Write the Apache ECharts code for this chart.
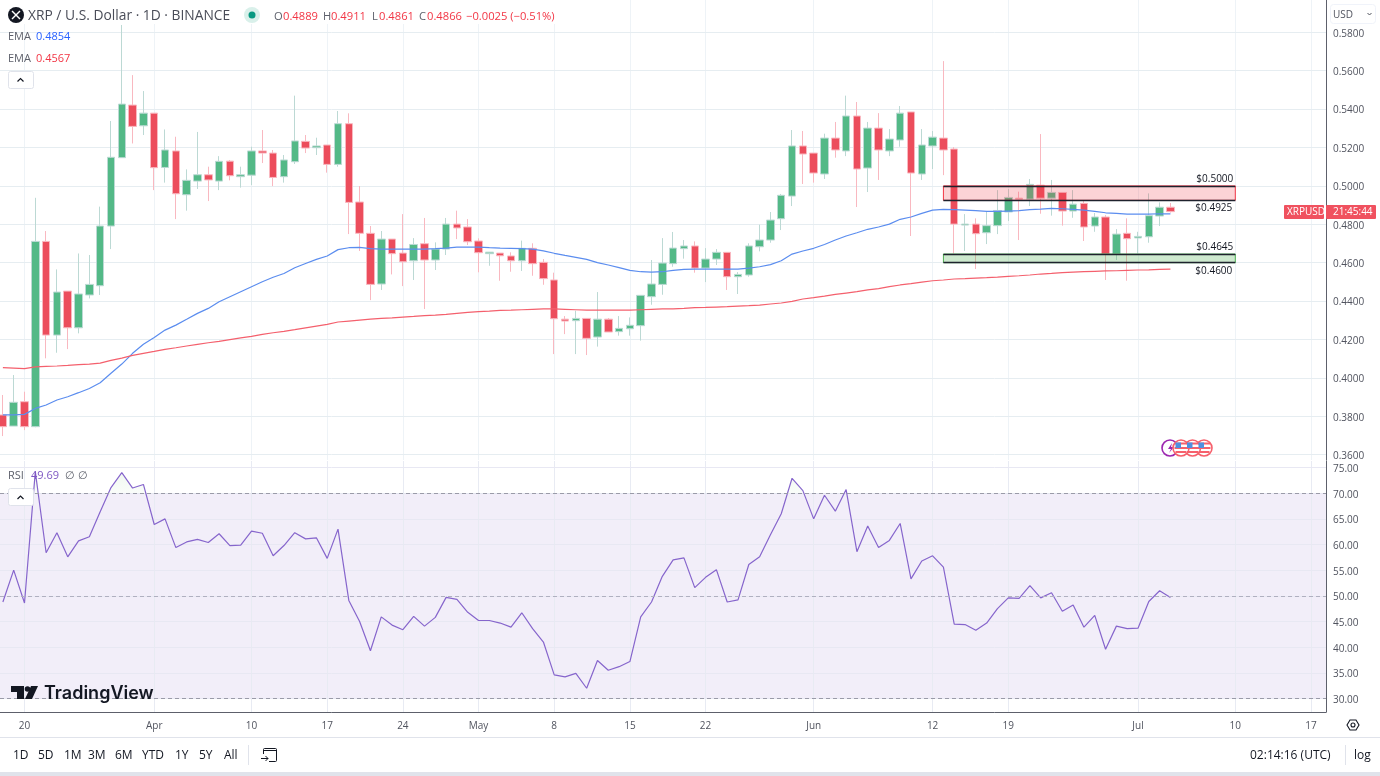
<!DOCTYPE html>
<html>
<head>
<meta charset="utf-8">
<style>html,body{margin:0;padding:0;background:#fff}#c{width:1380px;height:776px}</style>
<script src="https://cdn.jsdelivr.net/npm/echarts@6/dist/echarts.min.js"></script>
</head>
<body>
<div id="c"></div>
<script>
// first candle is 18 Mar; day 0 = 20 Mar
const firstDay = -2;
const opens = [.3807,.3749,.3876,.3746,.4711,.4223,.4452,.4261,.4432,.4480,
.4791,.5147,.5421,.5313,.5379,.5096,.5182,.4954,.5025,.5058,
.5025,.5129,.5048,.5056,.5182,.5171,.5048,.5126,.5232,.5199,
.5213,.5112,.5324,.4916,.4753,.4489,.4723,.4650,.4610,.4699,
.4614,.4671,.4801,.4786,.4713,.4647,.4650,.4635,.4610,.4675,
.4602,.4510,.4306,.4298,.4310,.4213,.4306,.4241,.4256,.4272,
.4423,.4487,.4595,.4673,.4687,.4572,.4619,.4654,.4527,.4536,
.4683,.4718,.4829,.4947,.5208,.5171,.5062,.5249,.5182,.5364,
.5093,.5301,.5182,.5239,.5385,.5062,.5208,.5249,.5192,.4796,
.4801,.4756,.4793,.4864,.4936,.4931,.5004,.4936,.4966,.4869,
.4909,.4791,.4838,.4645,.4753,.4729,.4735,.4843,.4889];
const closes = [.3746,.3873,.3746,.4711,.4223,.4447,.4261,.4437,.4487,.4791,
.5149,.5426,.5310,.5379,.5095,.5187,.4959,.5029,.5058,.5031,
.5128,.5053,.5058,.5182,.5171,.5044,.5135,.5234,.5197,.5208,
.5112,.5324,.4914,.4753,.4487,.4723,.4647,.4605,.4695,.4614,
.4671,.4801,.4781,.4709,.4652,.4655,.4636,.4610,.4675,.4595,
.4517,.4308,.4296,.4310,.4206,.4306,.4239,.4258,.4274,.4430,
.4489,.4598,.4676,.4687,.4572,.4619,.4654,.4527,.4539,.4687,
.4718,.4822,.4951,.5208,.5166,.5067,.5249,.5187,.5364,.5088,
.5301,.5187,.5244,.5379,.5067,.5213,.5254,.5187,.4801,.4801,
.4751,.4793,.4872,.4940,.4931,.5008,.4936,.4966,.4869,.4905,
.4786,.4838,.4645,.4749,.4725,.4737,.4845,.4889,.4866];
const lows = [.3697,.3749,.3728,.3743,.4102,.4131,.4150,.4232,.4414,.4432,
.4671,.5147,.5221,.5265,.4978,.5017,.4827,.4871,.4984,.4921,
.4978,.5029,.4991,.5004,.5119,.4999,.5017,.5114,.5171,.5161,
.5069,.5100,.4749,.4661,.4405,.4458,.4539,.4478,.4510,.4359,
.4562,.4640,.4723,.4692,.4550,.4584,.4506,.4553,.4557,.4532,
.4485,.4124,.4228,.4124,.4119,.4163,.4239,.4220,.4220,.4194,
.4381,.4433,.4579,.4621,.4548,.4499,.4588,.4458,.4437,.4527,
.4659,.4704,.4770,.4895,.5010,.5017,.5036,.5147,.5155,.4890,
.4968,.5031,.5155,.5204,.4739,.5031,.5088,.5056,.4648,.4661,
.4567,.4697,.4749,.4817,.4718,.4895,.4855,.4845,.4793,.4834,
.4713,.4761,.4510,.4614,.4506,.4648,.4704,.4791,.4861];
const highs = [.3911,.4015,.3928,.4938,.4765,.4565,.4452,.4648,.4640,.4892,
.5338,.5838,.5577,.5494,.5379,.5294,.5256,.5086,.5281,.5100,
.5155,.5135,.5100,.5204,.5291,.5187,.5161,.5470,.5265,.5251,
.5213,.5390,.5378,.4999,.4791,.4765,.4723,.4853,.4728,.4833,
.4706,.4833,.4871,.4827,.4727,.4655,.4650,.4654,.4715,.4701,
.4619,.4548,.4322,.4350,.4310,.4447,.4312,.4322,.4315,.4430,
.4614,.4728,.4760,.4718,.4711,.4676,.4671,.4654,.4551,.4701,
.4798,.4864,.4958,.5291,.5286,.5171,.5272,.5333,.5470,.5437,
.5333,.5379,.5296,.5416,.5385,.5296,.5286,.5650,.5202,.4853,
.4831,.4866,.4978,.4984,.4970,.5036,.5270,.5031,.4966,.4978,
.4923,.4859,.4848,.4775,.4831,.4761,.4961,.4914,.4911];
const emaBlue = [.3807,.3807,.3810,.3841,.3859,.3885,.3902,.3923,.3945,.3975,
.4024,.4072,.4128,.4175,.4211,.4249,.4275,.4305,.4336,.4362,
.4397,.4423,.4449,.4475,.4501,.4524,.4544,.4574,.4596,.4617,
.4635,.4668,.4678,.4680,.4673,.4671,.4671,.4671,.4671,.4671,
.4673,.4676,.4681,.4681,.4681,.4678,.4676,.4675,.4673,.4671,
.4662,.4649,.4638,.4628,.4617,.4600,.4588,.4574,.4560,.4553,
.4551,.4553,.4560,.4565,.4567,.4567,.4567,.4567,.4567,.4572,
.4579,.4590,.4610,.4645,.4661,.4675,.4695,.4718,.4739,.4756,
.4774,.4786,.4801,.4826,.4838,.4857,.4874,.4878,.4876,.4874,
.4871,.4867,.4867,.4869,.4871,.4876,.4879,.4883,.4881,.4878,
.4874,.4867,.4860,.4857,.4853,.4853,.4853,.4855,.4854];
const emaRed = [.4053,.4051,.4048,.4057,.4060,.4062,.4065,.4069,.4072,.4077,
.4091,.4103,.4117,.4128,.4138,.4149,.4157,.4166,.4175,.4183,
.4190,.4199,.4208,.4216,.4227,.4235,.4242,.4251,.4261,.4270,
.4279,.4291,.4296,.4301,.4306,.4310,.4313,.4317,.4320,.4324,
.4327,.4331,.4336,.4341,.4345,.4348,.4352,.4353,.4355,.4357,
.4359,.4359,.4357,.4355,.4353,.4353,.4353,.4353,.4353,.4355,
.4357,.4359,.4360,.4362,.4366,.4367,.4369,.4371,.4374,.4376,
.4379,.4385,.4390,.4399,.4411,.4418,.4426,.4435,.4442,.4449,
.4458,.4465,.4475,.4484,.4491,.4499,.4506,.4510,.4515,.4517,
.4520,.4522,.4525,.4529,.4532,.4536,.4541,.4544,.4548,.4551,
.4553,.4555,.4557,.4558,.4560,.4562,.4563,.4565,.4567];
const rsi = [48.8,55.0,48.6,74.2,58.4,62.3,57.6,60.7,61.5,66.4,
71.1,74.0,71.0,71.7,63.9,65.0,59.4,60.5,61.0,60.4,
62.1,59.8,59.9,62.6,62.2,57.8,59.8,62.3,61.1,61.3,
57.3,63.0,49.1,45.0,39.3,45.9,44.3,43.4,46.0,44.1,
45.8,49.7,49.3,46.8,45.2,45.2,44.7,43.9,46.7,43.6,
41.0,34.6,34.2,34.9,32.0,37.4,35.5,36.2,37.2,45.9,
48.8,53.8,57.0,57.4,51.6,53.6,55.1,48.8,49.2,56.1,
57.6,61.9,66.0,72.9,70.5,65.0,69.6,66.5,70.7,58.6,
63.6,59.4,60.8,64.1,53.3,56.8,57.8,55.6,44.5,44.4,
43.3,44.7,47.5,49.6,49.5,52.0,49.6,50.6,47.0,48.2,
43.9,46.2,39.6,44.1,43.6,43.7,48.9,51.0,49.69];
const xTickDays = [0,12,21,28,35,42,49,56,63,73,84,91,103,112,119];
const xTickLabels = ['20','Apr','10','17','24','May','8','15','22','Jun','12','19','Jul','10','17'];
const priceTicks = [.36,.38,.40,.42,.44,.46,.48,.50,.52,.54,.56,.58];
const rsiTicks = [30,35,40,45,50,55,60,65,70,75];
const resistance = [.4925,.5000];
const support = [.4600,.4645];
const zoneStart = 85, zoneEnd = 112;
const rangeButtons = ['1D','5D','1M','3M','6M','YTD','1Y','5Y','All'];

const FONT = '"Open Sans"';
const days = opens.map((_, i) => firstDay + i);
const xMin = -2.266, xMax = 120.39;
const GRID_H = '#e6edf1', GRID_V = '#eef3f7';
const txt = (text, x, y, size, fill, extra) => ({type:'text', z:20, silent:true,
  style:Object.assign({text, x, y, fill, font:`${size}px ${FONT}`, textVerticalAlign:'middle'}, extra||{})});
const chevron = (x, y) => ({type:'polyline', z:21, silent:true, shape:{points:[[x-3,y+2],[x,y-1],[x+3,y+2]]}, style:{stroke:'#131722', lineWidth:1.2, fill:null}});
const flag = (cx, cy) => ({type:'group', z:20, silent:true, x:cx, y:cy, children:[
  {type:'circle', z:20, shape:{cx:0,cy:0,r:8}, style:{fill:'#fff', stroke:'#f6606c', lineWidth:1.6}},
  {type:'rect', z:21, shape:{x:-6,y:-5.5,width:12,height:2}, style:{fill:'#f6606c'}},
  {type:'rect', z:21, shape:{x:-6.5,y:-1,width:13,height:2}, style:{fill:'#f6606c'}},
  {type:'rect', z:21, shape:{x:-5.5,y:3,width:11,height:2}, style:{fill:'#f6606c'}},
  {type:'rect', z:22, shape:{x:-5.5,y:-5.5,width:5.5,height:5.5}, style:{fill:'#4f8fe0'}}
]});

const elements = [
  {type:'rect', z:19, silent:true, shape:{x:0,y:0,width:560,height:24}, style:{fill:'#fff'}},
  {type:'circle', z:20, silent:true, shape:{cx:16,cy:15,r:8}, style:{fill:'#131722'}},
  {type:'polyline', z:21, silent:true, shape:{points:[[12,11],[20,19]]}, style:{stroke:'#fff',lineWidth:1.4}},
  {type:'polyline', z:21, silent:true, shape:{points:[[20,11],[12,19]]}, style:{stroke:'#fff',lineWidth:1.4}},
  txt('XRP / U.S. Dollar · 1D · BINANCE', 28, 16, 13.8, '#4a4d58'),
  {type:'circle', z:20, silent:true, shape:{cx:252,cy:15,r:8}, style:{fill:'#d9f0ea'}},
  {type:'circle', z:21, silent:true, shape:{cx:252,cy:15,r:3.5}, style:{fill:'#089981'}},
  txt('O', 274, 17, 11.2, '#5d606b'), txt('0.4889', 283, 17, 11.2, '#f23645'),
  txt('H', 323, 17, 11.2, '#5d606b'), txt('0.4911', 331, 17, 11.2, '#f23645'),
  txt('L', 372, 17, 11.2, '#5d606b'), txt('0.4861', 379, 17, 11.2, '#f23645'),
  txt('C', 419, 17, 11.2, '#5d606b'), txt('0.4866', 427, 17, 11.2, '#f23645'),
  txt('−0.0025 (−0.51%)', 466, 17, 11.2, '#f23645'),
  txt('EMA', 8, 37, 11, '#5d606b'), txt('0.4854', 36, 37, 11, '#2962ff'),
  txt('EMA', 8, 59, 11, '#5d606b'), txt('0.4567', 36, 59, 11, '#f23645'),
  {type:'rect', z:20, silent:true, shape:{x:8.5,y:71.5,width:25,height:17,r:2}, style:{fill:'#fff',stroke:'#e0e3eb'}},
  chevron(20.5, 79.5),
  txt('RSI', 8, 476, 11, '#5d606b'), txt('49.69', 31, 476, 11, '#7e57c2'), txt('∅', 65, 476, 11, '#5d606b'), txt('∅', 78, 476, 11, '#5d606b'),
  {type:'rect', z:20, silent:true, shape:{x:8.5,y:488.5,width:25,height:17,r:2}, style:{fill:'#fff',stroke:'#e0e3eb'}},
  chevron(20.5, 497),
  // logo
  {type:'polygon', z:20, silent:true, shape:{points:[[11,686],[24,686],[24,699],[17,699],[17,692],[11,692]]}, style:{fill:'#131722'}},
  {type:'circle', z:20, silent:true, shape:{cx:27.5,cy:689,r:2.8}, style:{fill:'#131722'}},
  {type:'polygon', z:20, silent:true, shape:{points:[[31,686],[38,686],[32,699],[25,699]]}, style:{fill:'#131722'}},
  txt('TradingView', 44, 694, 18, '#131722', {font:'600 18px Inter'}),
  // events
  {type:'circle', z:20, silent:true, shape:{cx:1170,cy:448,r:8}, style:{fill:'#fff',stroke:'#9c27b0',lineWidth:1.6}},
  {type:'polygon', z:20, silent:true, shape:{points:[[1172,443],[1168,449],[1171,449],[1169,453],[1174,447],[1171,447]]}, style:{fill:'#9c27b0'}},
  flag(1204,448), flag(1192.5,448), flag(1181,448),
  // bottom bar
  {type:'rect', z:20, silent:true, shape:{x:0,y:737,width:1380,height:1}, style:{fill:'#e0e3eb'}},
  {type:'rect', z:20, silent:true, shape:{x:0,y:772,width:1380,height:4}, style:{fill:'#e0e3eb'}},
  {type:'rect', z:20, silent:true, shape:{x:248,y:745,width:1,height:20}, style:{fill:'#e0e3eb'}},
  {type:'rect', z:20, silent:true, shape:{x:1345,y:745,width:1,height:20}, style:{fill:'#e0e3eb'}},
  {type:'rect', z:20, silent:true, shape:{x:263.5,y:748.5,width:13,height:13,r:1}, style:{fill:'none',stroke:'#131722'}},
  {type:'rect', z:21, silent:true, shape:{x:263,y:750,width:14,height:1}, style:{fill:'#131722'}},
  {type:'rect', z:21, silent:true, shape:{x:262,y:754,width:7,height:9}, style:{fill:'#fff'}},
  {type:'polyline', z:22, silent:true, shape:{points:[[261,758.5],[268,758.5]]}, style:{stroke:'#131722'}},
  {type:'polyline', z:22, silent:true, shape:{points:[[265.5,756],[268,758.5],[265.5,761]]}, style:{stroke:'#131722',fill:null}},
  txt('02:14:16 (UTC)', 1250, 756, 12, '#131722'),
  txt('log', 1354, 756, 12, '#131722'),
  // settings
  {type:'polygon', z:20, silent:true, shape:{points:[[1347,725],[1350,720],[1356,720],[1359,725],[1356,730],[1350,730]]}, style:{fill:'#fff',stroke:'#131722',lineWidth:1.1}},
  {type:'circle', z:20, silent:true, shape:{cx:1353,cy:725,r:2}, style:{fill:'#fff',stroke:'#131722',lineWidth:1.1}},
  // USD button
  {type:'rect', z:20, silent:true, shape:{x:1330.5,y:4.5,width:45,height:19,r:3}, style:{fill:'#fff',stroke:'#f0f3fa'}},
  txt('USD', 1333, 15, 10, '#50535e'),
  {type:'polyline', z:21, silent:true, shape:{points:[[1367.5,13],[1369.5,15],[1371.5,13]]}, style:{stroke:'#50535e',fill:null}},
  // countdown tags
  {type:'rect', z:20, silent:true, shape:{x:1284,y:205,width:40,height:14,r:1}, style:{fill:'#f0515f'}},
  {type:'rect', z:20, silent:true, shape:{x:1326,y:205,width:50,height:14,r:1}, style:{fill:'#f0515f'}},
  txt('XRPUSD', 1287, 212, 10, '#fff'),
  txt('21:45:44', 1333, 212, 10, '#fff')
];
const btnX = [13,38,64,88,115,142,175,199,224];
rangeButtons.forEach((b,i)=>elements.push(txt(b, btnX[i], 756, 12, '#131722')));

const zoneLine = (y, label, pos, dist) => [{coord:[zoneStart,y], lineStyle:{color:'#1e222d', width:1.3, type:'solid'},
   label:{show:true, position:pos, formatter:label, color:'#131722', fontFamily:FONT, fontSize:10, distance:dist}}, {coord:[zoneEnd,y]}];
const gridLines = (xs, ys, colV, colH) => ({silent:true, symbol:'none', z:1, label:{show:false},
  data:xs.map(v=>({xAxis:v, lineStyle:{color:colV, width:1, type:'solid'}}))
    .concat(ys.map(v=>({yAxis:v, lineStyle:{color:colH, width:1, type:'solid'}})))});
const tickRich = {t:{padding:[3,0,0,0], color:'#50535e', fontSize:10, fontFamily:FONT}};

const option = {
  animation:false,
  backgroundColor:'#fff',
  textStyle:{fontFamily:FONT},
  grid:[
    {left:0, top:0, width:1326, height:460, show:false},
    {left:0, top:461, width:1326, height:251, show:false}
  ],
  xAxis:[
    {type:'value', gridIndex:0, min:xMin, max:xMax, axisLine:{show:false}, axisTick:{show:false},
     axisLabel:{show:false}, splitLine:{show:false}},
    {type:'value', gridIndex:1, min:xMin, max:xMax, position:'bottom',
     axisLine:{show:true, onZero:false, lineStyle:{color:'#5d606b'}}, axisTick:{show:false},
     axisLabel:{show:true, customValues:xTickDays, margin:9, color:'#50535e', fontSize:10, fontFamily:FONT,
       formatter:v=>xTickLabels[xTickDays.indexOf(v)]},
     splitLine:{show:false}}
  ],
  yAxis:[
    {type:'value', gridIndex:0, position:'right', min:.35724, max:.59682,
     axisLine:{show:true, onZero:false, lineStyle:{color:'#5d606b'}}, axisTick:{show:false},
     axisLabel:{customValues:priceTicks, margin:7, rich:tickRich, formatter:v=>'{t|'+v.toFixed(4)+'}'},
     splitLine:{show:false}},
    {type:'value', gridIndex:1, position:'right', min:27.37, max:76.27,
     axisLine:{show:true, onZero:false, lineStyle:{color:'#5d606b'}}, axisTick:{show:false},
     axisLabel:{customValues:rsiTicks, margin:7, rich:tickRich, formatter:v=>'{t|'+v.toFixed(2)+'}'},
     splitLine:{show:false}}
  ],
  series:[
    {type:'line', name:'Price grid', xAxisIndex:0, yAxisIndex:0, symbol:'none', silent:true, z:1, data:[],
     markLine:gridLines(xTickDays, priceTicks, GRID_V, GRID_H)},
    {type:'candlestick', name:'XRP / U.S. Dollar', xAxisIndex:0, yAxisIndex:0, barWidth:8,
     encode:{x:0, y:[1,2,3,4]},
     itemStyle:{color:'#53b987', color0:'#ec4d5c', borderColor:'#bcd9d4', borderColor0:'#f9b8c0', borderWidth:1},
     data:days.map((d,i)=>[d,opens[i],closes[i],lows[i],highs[i]])},
    {type:'line', name:'EMA', xAxisIndex:0, yAxisIndex:0, symbol:'none', z:3, lineStyle:{color:'#5b8def', width:1.2},
     data:days.map((d,i)=>[d,emaBlue[i]])},
    {type:'line', name:'EMA', xAxisIndex:0, yAxisIndex:0, symbol:'none', z:3, lineStyle:{color:'#f4606d', width:1.2},
     data:days.map((d,i)=>[d,emaRed[i]])},
    {type:'line', name:'Zones', xAxisIndex:0, yAxisIndex:0, symbol:'none', z:6, silent:true, data:[],
     markArea:{silent:true, z:6, data:[
       [{coord:[zoneStart,resistance[1]], itemStyle:{color:'rgba(242,54,69,0.22)', borderColor:'#f23645', borderWidth:1}},{coord:[zoneEnd,resistance[0]]}],
       [{coord:[zoneStart,support[1]], itemStyle:{color:'rgba(76,175,80,0.28)', borderColor:'#4caf50', borderWidth:1}},{coord:[zoneEnd,support[0]]}]
     ]},
     markLine:{silent:true, symbol:'none', z:7, data:[
       zoneLine(resistance[1],'$0.5000','insideEndTop',2),
       zoneLine(resistance[0],'$0.4925','insideEndBottom',3),
       zoneLine(support[1],'$0.4645','insideEndTop',2),
       zoneLine(support[0],'$0.4600','insideEndBottom',3)
     ]}},
    {type:'line', name:'RSI grid', xAxisIndex:1, yAxisIndex:1, symbol:'none', silent:true, z:1, data:[],
     markLine:gridLines(xTickDays, rsiTicks, '#e8ebf3', '#e8e8f3')},
    {type:'line', name:'RSI', xAxisIndex:1, yAxisIndex:1, symbol:'none', z:4, lineStyle:{color:'#8665cc', width:1.2},
     areaStyle:{origin:70, color:new echarts.graphic.LinearGradient(0,461,0,712,[
        {offset:0,color:'rgba(76,175,80,0.16)'},{offset:0.13,color:'rgba(76,175,80,0.04)'},
        {offset:0.1301,color:'rgba(76,175,80,0)'},{offset:1,color:'rgba(76,175,80,0)'}],true)},
     data:days.map((d,i)=>[d,rsi[i]]),
     markArea:{silent:true, data:[[{yAxis:30, itemStyle:{color:'rgba(126,87,194,0.1)'}},{yAxis:70}]]},
     markLine:{silent:true, symbol:'none', label:{show:false}, data:[
       {yAxis:70, lineStyle:{color:'#9a9ba8', type:[4,3], width:1}},
       {yAxis:50, lineStyle:{color:'#b0b0c0', type:[4,3], width:1}},
       {yAxis:30, lineStyle:{color:'#9a9ba8', type:[4,3], width:1}}
     ]}}
  ],
  graphic:{elements}
};
echarts.init(document.getElementById('c')).setOption(option);
</script>
</body>
</html>
